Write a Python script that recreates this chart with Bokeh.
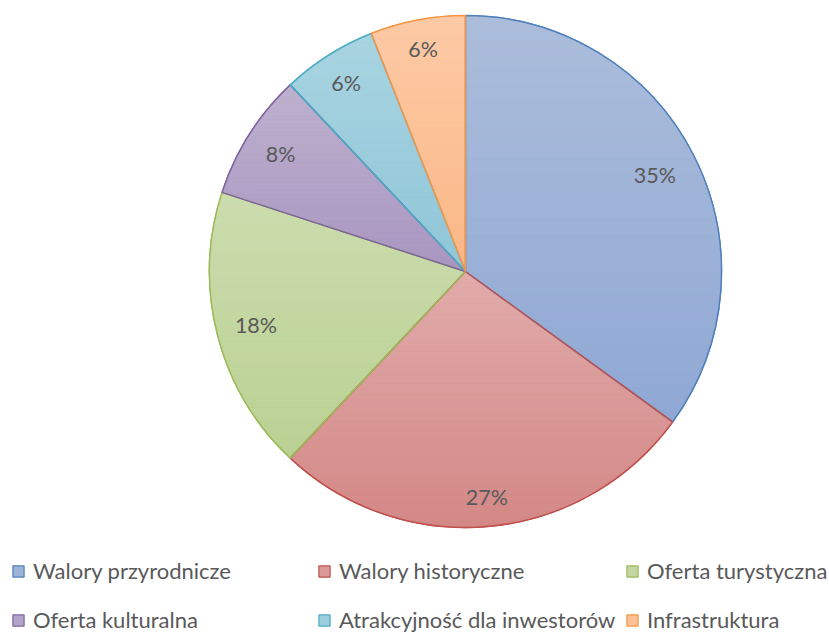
import numpy as np
from bokeh.plotting import figure
from bokeh.models import Range1d, Legend, LegendItem, ColumnDataSource
from bokeh.core.properties import value
from bokeh.embed import file_html
from bokeh.resources import INLINE

# ---- data ----
categories = ["Walory przyrodnicze", "Walory historyczne", "Oferta turystyczna",
              "Oferta kulturalna", "Atrakcyjność dla inwestorów", "Infrastruktura"]
values = [35, 27, 18, 8, 6, 6]
labels = ["35%", "27%", "18%", "8%", "6%", "6%"]

# ---- styles ----
line_colors = ["#4F81BD", "#C0504D", "#9BBB59", "#8064A2", "#4BACC6", "#F79646"]
top_colors = ["#ACBDDB", "#E1ABAA", "#CCDCAE", "#BEB1CE", "#A9D4E1", "#FCCAA6"]
bot_colors = ["#8FA8D4", "#D38886", "#BAD193", "#A996C1", "#8FC6D7", "#FBB786"]
mid_colors = ["#9EB3D8", "#DA9A98", "#C3D6A1", "#B4A4C8", "#9CCDDC", "#FBC096"]
label_r = [0.83, 0.885, 0.845, 0.855, 0.87, 0.885]

W, H = 829, 634
CX, CY, R = 465, 363, 256
FONT = "Lato"
TXT = "#595959"


def hex2rgb(h):
    h = h.lstrip("#")
    return np.array([int(h[i:i + 2], 16) for i in (0, 2, 4)], dtype=float)


def rgb2hex(c):
    return "#%02x%02x%02x" % tuple(int(round(v)) for v in c)


def clip(poly, y0, keep_above):
    out = []
    n = len(poly)
    for i in range(n):
        P, Q = poly[i], poly[(i + 1) % n]
        inP = P[1] >= y0 if keep_above else P[1] <= y0
        inQ = Q[1] >= y0 if keep_above else Q[1] <= y0
        if inP:
            out.append(P)
        if inP != inQ:
            t = (y0 - P[1]) / (Q[1] - P[1])
            out.append((P[0] + t * (Q[0] - P[0]), y0))
    return out


fracs = np.array(values, dtype=float) / sum(values)
cum = np.cumsum(fracs)
starts = np.pi / 2 - 2 * np.pi * (cum - fracs)   # clockwise from 12 o'clock
ends = np.pi / 2 - 2 * np.pi * cum

p = figure(width=W, height=H, x_range=Range1d(0, W), y_range=Range1d(0, H),
           x_axis_type=None, y_axis_type=None, toolbar_location=None,
           output_backend="svg", min_border=0, outline_line_color=None)
p.grid.visible = False
p.background_fill_color = "white"

# base wedges (also used for legend)
base_src = ColumnDataSource(dict(start=ends, end=starts, fill=mid_colors,
                                 line=line_colors, cat=categories))
base = p.wedge(x=CX, y=CY, radius=R, start_angle="start", end_angle="end",
               fill_color="fill", line_color="line", line_width=1.2, source=base_src)

# vertical gradient bands
xs, ys, cols = [], [], []
NB = 48
for i in range(len(values)):
    a = np.linspace(starts[i], ends[i], 200)
    poly = [(CX, CY)] + [(CX + R * np.cos(t), CY + R * np.sin(t)) for t in a]
    ytop = max(q[1] for q in poly)
    ybot = min(q[1] for q in poly)
    c0, c1 = hex2rgb(top_colors[i]), hex2rgb(bot_colors[i])
    edges = np.linspace(ytop, ybot, NB + 1)
    for k in range(NB):
        hi, lo = edges[k], edges[k + 1]
        pp = clip(poly, hi, keep_above=False)
        pp = clip(pp, lo, keep_above=True) if pp else pp
        if len(pp) < 3:
            continue
        f = (k + 0.5) / NB
        xs.append([q[0] for q in pp])
        ys.append([q[1] for q in pp])
        cols.append(rgb2hex(c0 * (1 - f) + c1 * f))
p.patches(xs=xs, ys=ys, fill_color=cols, line_color=cols, line_width=0.8)

# outlines on top
p.wedge(x=CX, y=CY, radius=R, start_angle=ends, end_angle=starts,
        fill_alpha=0, line_color=line_colors, line_width=1.5)

# data labels
mids = (starts + ends) / 2
lx = CX + np.array(label_r) * R * np.cos(mids)
ly = CY + np.array(label_r) * R * np.sin(mids)
p.text(x=lx, y=ly, text=labels, text_align="center", text_baseline="middle",
       text_color=TXT, text_font=value(FONT), text_font_size="21.5px")

# legend: three columns of two rows
col_x = [11, 317, 625]
for c in range(3):
    items = [LegendItem(label=categories[idx], renderers=[base], index=idx)
             for idx in (c, c + 3)]
    lg = Legend(items=items, location=(col_x[c], 1), orientation="vertical",
                glyph_width=14, glyph_height=14, label_standoff=8,
                label_height=24, spacing=22, padding=0, margin=0,
                label_text_font=FONT, label_text_font_size="22px",
                label_text_color=TXT, border_line_alpha=0,
                background_fill_alpha=0)
    p.add_layout(lg, "center")

open("out.html", "w").write(file_html(p, INLINE))
